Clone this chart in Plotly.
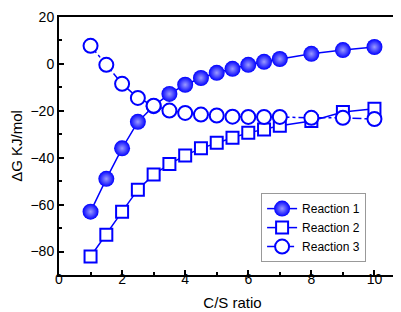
import plotly.graph_objects as go

x1 = [1, 1.5, 2, 2.5, 3, 3.5, 4, 4.5, 5, 5.5, 6, 6.5, 7, 8, 9, 10]
r1 = [-63, -49, -36, -24.7, -18, -12.8, -8.9, -6, -3.8, -2.1, -0.4, 0.9, 2.1, 4.3, 5.9, 7.2]
x2 = [1, 1.5, 2, 2.5, 3, 3.5, 4, 4.5, 5, 5.5, 6, 6.5, 7, 8, 9, 10]
r2 = [-82.1, -72.8, -63, -53.6, -47.2, -42.7, -39, -36, -33.6, -31.5, -29.4, -28, -26.4, -24.3, -20.5, -19.1]
x3 = [1, 1.5, 2, 2.5, 3, 3.5, 4, 4.5, 5, 5.5, 6, 6.5, 7, 8, 9, 10]
r3 = [7.7, -0.4, -8.5, -14.5, -17.8, -19.9, -20.9, -21.6, -22, -22.5, -22.6, -22.6, -22.6, -23, -23, -23.5]

blue = "#0000ff"
font = "Liberation Sans, Arial"
fig = go.Figure()
fig.add_trace(go.Scatter(
    x=x1, y=r1, name="Reaction 1", mode="lines+markers",
    line=dict(color=blue, width=1.5),
    marker=dict(symbol="circle", size=16, color=blue, line=dict(width=0),
                gradient=dict(type="radial", color="#9a9aff"))))
fig.add_trace(go.Scatter(
    x=x2, y=r2, name="Reaction 2", mode="lines+markers",
    line=dict(color=blue, width=1.5),
    marker=dict(symbol="square", size=12, color="white", line=dict(color=blue, width=2))))
fig.add_trace(go.Scatter(
    x=x3, y=r3, name="Reaction 3", mode="lines+markers",
    line=dict(color=blue, width=1.5, dash="dashdot"),
    marker=dict(symbol="circle", size=14, color="white", line=dict(color=blue, width=2))))

axis_common = dict(showline=True, linecolor="black", linewidth=2, mirror=True,
                   ticks="inside", ticklen=5, tickwidth=1.5, tickcolor="black",
                   showgrid=False, zeroline=False,
                   tickfont=dict(family=font, size=14, color="black"))
fig.update_xaxes(range=[0, 11], dtick=2, tick0=0, ticklabelstandoff=-10,
                 minor=dict(dtick=1, ticks="inside", ticklen=3, tickwidth=1.5, tickcolor="black"),
                 title=dict(text="C/S ratio", font=dict(family=font, size=15, color="black"), standoff=12),
                 **axis_common)
fig.update_yaxes(range=[-90, 20], dtick=20, tick0=0,
                 minor=dict(dtick=10, ticks="inside", ticklen=3, tickwidth=1.5, tickcolor="black"),
                 title=dict(text="ΔG KJ/mol", font=dict(family=font, size=15, color="black"), standoff=4),
                 **axis_common)
fig.update_layout(
    width=401, height=312,
    margin=dict(l=51, r=3, t=9, b=45, autoexpand=False),
    plot_bgcolor="white", paper_bgcolor="white",
    showlegend=True,
    legend=dict(x=0.885, y=0.05, xanchor="right", yanchor="bottom",
                bgcolor="white", bordercolor="#999999", borderwidth=1,
                font=dict(family=font, size=12, color="black"),
                tracegroupgap=0, itemsizing="trace", itemwidth=30),
)
fig.write_html("out.html")
